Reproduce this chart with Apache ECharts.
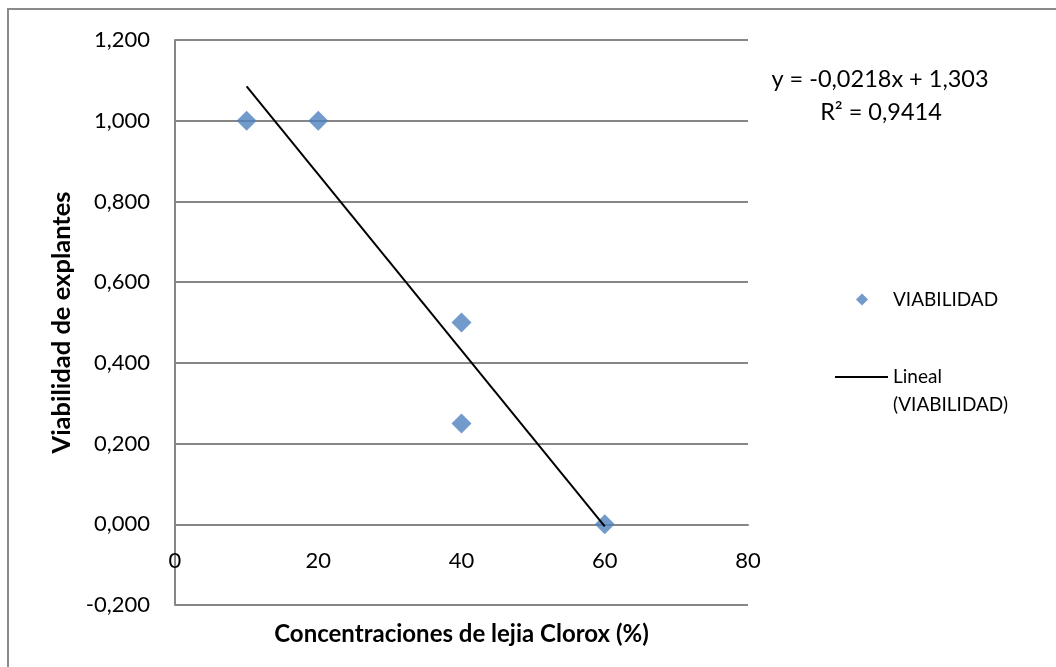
<!DOCTYPE html>
<html>
<head>
<meta charset="utf-8">
<script src="https://cdn.jsdelivr.net/npm/echarts@6/dist/echarts.min.js"></script>
<style>html,body{margin:0;padding:0;background:#fff;}#c{width:1056px;height:667px;}</style>
</head>
<body>
<div id="c"></div>
<script>
// Data
const concentrations = [10, 20, 40, 40, 60];
const viability = [1.0, 1.0, 0.5, 0.25, 0.0];
const trendX = [10, 60];
const trendY = [1.085, -0.005];
const xTicks = [0, 20, 40, 60, 80];
const yTicks = [-0.2, 0, 0.2, 0.4, 0.6, 0.8, 1.0, 1.2];
const equationLines = ['y = -0,0218x + 1,303', 'R\u00B2 = 0,9414'];

const FONT = 'Lato';
const GRID = '#868686';
const GRID_TOP = 40, GRID_BOTTOM = 62, H = 667;
const plotH = H - GRID_TOP - GRID_BOTTOM;
const yMin = yTicks[0], yMax = yTicks[yTicks.length - 1];
// x axis crosses the value axis at 0 (like Excel): shift it up from the bottom edge
const xAxisShift = -plotH * (0 - yMin) / (yMax - yMin);

const chart = echarts.init(document.getElementById('c'));
chart.setOption({
  animation: false,
  backgroundColor: '#fff',
  textStyle: { fontFamily: FONT },
  grid: { left: 175, right: 308, top: GRID_TOP, bottom: GRID_BOTTOM, containLabel: false, outerBoundsMode: 'none' },
  xAxis: {
    type: 'value', min: xTicks[0], max: xTicks[xTicks.length - 1], interval: 20,
    position: 'bottom', offset: xAxisShift,
    name: 'Concentraciones de lejia Clorox (%)', nameLocation: 'middle', nameGap: 98,
    nameTextStyle: { fontFamily: FONT, fontWeight: 'bold', fontSize: 24, color: '#000' },
    axisLine: { onZero: false, lineStyle: { color: GRID, width: 2 } },
    axisTick: { show: false },
    splitLine: { show: false },
    axisLabel: { margin: 26, fontSize: 22, color: '#000', fontFamily: FONT }
  },
  yAxis: {
    type: 'value', min: yMin, max: yMax, interval: 0.2,
    name: 'Viabilidad de explantes', nameLocation: 'middle', nameGap: 97, nameRotate: 90,
    nameTextStyle: { fontFamily: FONT, fontWeight: 'bold', fontSize: 25.5, color: '#000' },
    axisLine: { show: true, onZero: false, lineStyle: { color: GRID, width: 2 } },
    axisTick: { show: false },
    splitLine: { show: true, lineStyle: { color: GRID, width: 2 } },
    axisLabel: {
      margin: 25, fontSize: 22, color: '#000', fontFamily: FONT,
      formatter: v => (Math.round(v * 1000) / 1000).toFixed(3).replace('.', ',')
    }
  },
  legend: [
    {
      left: 856, top: 290, orient: 'vertical', padding: 0,
      itemWidth: 12, itemHeight: 12,
      data: [{ name: 'VIABILIDAD', icon: 'diamond' }],
      textStyle: { fontSize: 19, color: '#000', fontFamily: FONT, padding: [0, 0, 0, 20] }
    },
    {
      left: 835, top: 335, orient: 'vertical', padding: 0,
      itemWidth: 53, itemHeight: 2,
      data: [{ name: 'Lineal (VIABILIDAD)', icon: 'rect', itemStyle: { color: '#000' } }],
      formatter: () => '\nLineal\n(VIABILIDAD)',
      textStyle: { fontSize: 19, color: '#000', fontFamily: FONT, lineHeight: 28 }
    }
  ],
  graphic: [
    { type: 'rect', silent: true, shape: { x: 8, y: 9, width: 1200, height: 800 },
      style: { fill: 'none', stroke: '#8a8a8a', lineWidth: 2 } },
    { type: 'text', x: 880, y: 79, style: { text: equationLines[0], fontFamily: FONT, fontSize: 23.5, fill: '#000', align: 'center', verticalAlign: 'middle' } },
    { type: 'text', x: 881, y: 112, style: { text: equationLines[1], fontFamily: FONT, fontSize: 23.5, fill: '#000', align: 'center', verticalAlign: 'middle' } }
  ],
  series: [
    {
      name: 'VIABILIDAD', type: 'scatter', symbol: 'diamond', symbolSize: 20,
      itemStyle: { color: '#4F81BD' },
      data: concentrations.map((x, i) => [x, viability[i]]), z: 3
    },
    {
      name: 'Lineal (VIABILIDAD)', type: 'line', symbol: 'none',
      lineStyle: { color: '#000', width: 2 }, itemStyle: { color: '#000' },
      data: trendX.map((x, i) => [x, trendY[i]]), z: 4
    }
  ]
});
</script>
</body>
</html>
